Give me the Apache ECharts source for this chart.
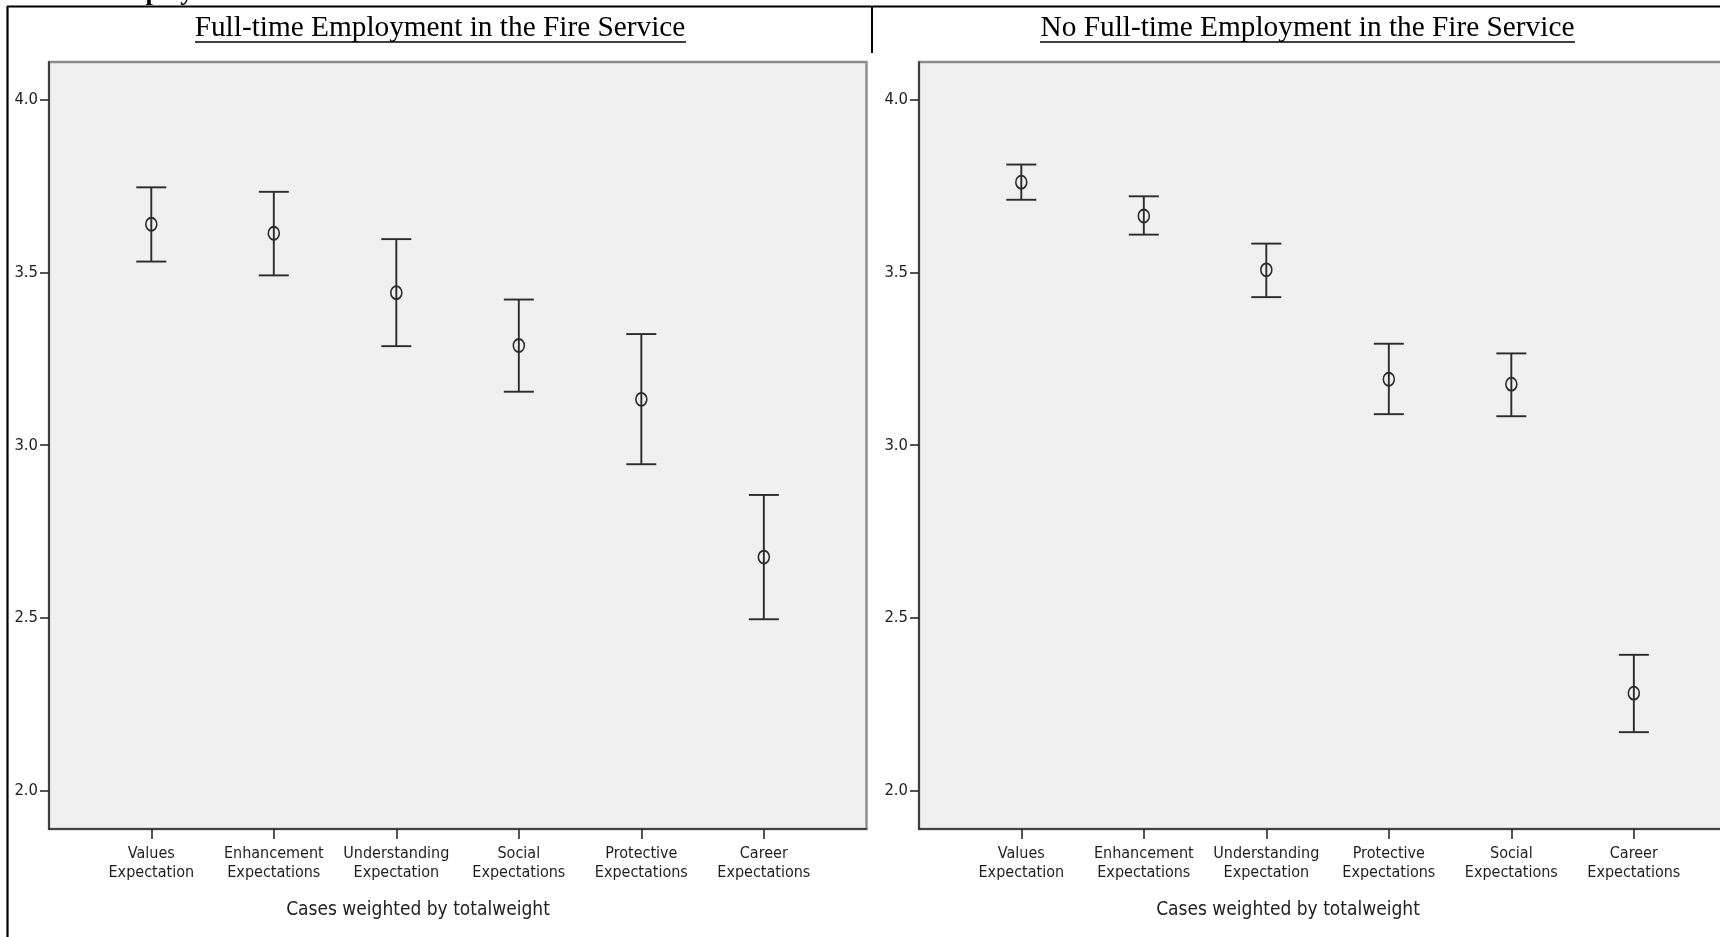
<!DOCTYPE html>
<html>
<head>
<meta charset="utf-8">
<script src="https://cdn.jsdelivr.net/npm/echarts@6/dist/echarts.min.js"></script>
<style>
html,body{margin:0;padding:0;background:#fff;overflow:hidden;width:1720px;height:937px;}
#chart{width:1740px;height:937px;}
</style>
</head>
<body>
<div id="chart"></div>
<script>
// ---- Data ----
const titleLeft = 'Full-time Employment in the Fire Service';
const titleRight = 'No Full-time Employment in the Fire Service';
const axisNote = 'Cases weighted by totalweight';

const categoriesFT = ['Values\nExpectation', 'Enhancement\nExpectations', 'Understanding\nExpectation', 'Social\nExpectations', 'Protective\nExpectations', 'Career\nExpectations'];
const meanFT  = [3.640, 3.614, 3.442, 3.289, 3.133, 2.676];
const upperFT = [3.747, 3.734, 3.597, 3.422, 3.322, 2.856];
const lowerFT = [3.532, 3.492, 3.287, 3.155, 2.945, 2.496];

const categoriesNFT = ['Values\nExpectation', 'Enhancement\nExpectations', 'Understanding\nExpectation', 'Protective\nExpectations', 'Social\nExpectations', 'Career\nExpectations'];
const meanNFT  = [3.762, 3.664, 3.508, 3.191, 3.177, 2.282];
const upperNFT = [3.813, 3.721, 3.584, 3.294, 3.266, 2.393];
const lowerNFT = [3.711, 3.610, 3.429, 3.090, 3.084, 2.169];

const yTicks = [2.0, 2.5, 3.0, 3.5, 4.0];

// ---- Styles ----
const cond = "'DejaVu Sans Condensed', 'Liberation Sans Narrow', sans-serif";
const serif = "'Liberation Serif', 'Times New Roman', serif";
const ink = '#2b2b2b';

const chart = echarts.init(document.getElementById('chart'), null, {renderer: 'canvas'});

function xAxisFor(cats, gridIndex) {
  const idx = cats.map((c, i) => i);
  return {
    type: 'value', gridIndex: gridIndex,
    min: -0.835, max: 5.838,
    axisLine: {show: true, onZero: false, lineStyle: {color: ink, width: 1.6}},
    axisTick: {show: true, customValues: idx, length: 10, lineStyle: {color: ink, width: 1.6}},
    axisLabel: {
      customValues: idx, margin: 15,
      formatter: v => cats[Math.round(v)] || '',
      fontFamily: cond, fontSize: 16, lineHeight: 19, color: '#1e1e1e'
    },
    splitLine: {show: false}
  };
}
function yAxisFor(gridIndex) {
  return {
    type: 'value', gridIndex: gridIndex,
    min: 1.8885, max: 4.110,
    axisLine: {show: true, onZero: false, lineStyle: {color: ink, width: 1.6}},
    axisTick: {show: true, customValues: yTicks, length: 9, lineStyle: {color: ink, width: 1.6}},
    axisLabel: {
      customValues: yTicks, margin: 11,
      formatter: v => v.toFixed(1),
      fontFamily: cond, fontSize: 16.5, color: '#1e1e1e'
    },
    splitLine: {show: false}
  };
}
function errSeries(lo, hi, axisIndex) {
  return {
    type: 'custom', xAxisIndex: axisIndex, yAxisIndex: axisIndex, z: 3,
    data: lo.map((v, i) => [i, v, hi[i]]),
    renderItem: function (params, api) {
      const x = api.value(0);
      const pLo = api.coord([x, api.value(1)]);
      const pHi = api.coord([x, api.value(2)]);
      const hw = 15;
      const st = {stroke: ink, lineWidth: 1.9};
      return {type: 'group', children: [
        {type: 'line', shape: {x1: pLo[0], y1: pLo[1], x2: pHi[0], y2: pHi[1]}, style: st},
        {type: 'line', shape: {x1: pHi[0] - hw, y1: pHi[1], x2: pHi[0] + hw, y2: pHi[1]}, style: st},
        {type: 'line', shape: {x1: pLo[0] - hw, y1: pLo[1], x2: pLo[0] + hw, y2: pLo[1]}, style: st}
      ]};
    }
  };
}
function meanSeries(m, axisIndex) {
  return {
    type: 'scatter', xAxisIndex: axisIndex, yAxisIndex: axisIndex, z: 4,
    data: m.map((v, i) => [i, v]),
    symbol: 'circle', symbolSize: [11, 13],
    itemStyle: {color: 'rgba(0,0,0,0)', borderColor: ink, borderWidth: 1.7, opacity: 1},
    emphasis: {disabled: true}
  };
}

const gridStyle = {show: true, backgroundColor: '#f0f0f0', borderColor: '#8c8c8c', borderWidth: 2.4};

const option = {
  backgroundColor: '#ffffff',
  animation: false,
  grid: [
    Object.assign({left: 49, width: 817.5, top: 62, height: 767}, gridStyle),
    Object.assign({left: 919, width: 817.5, top: 62, height: 767}, gridStyle)
  ],
  xAxis: [xAxisFor(categoriesFT, 0), xAxisFor(categoriesNFT, 1)],
  yAxis: [yAxisFor(0), yAxisFor(1)],
  series: [
    errSeries(lowerFT, upperFT, 0), meanSeries(meanFT, 0),
    errSeries(lowerNFT, upperNFT, 1), meanSeries(meanNFT, 1)
  ],
  graphic: [
    // document frame
    {type: 'line', shape: {x1: 7, y1: 6.5, x2: 1740, y2: 6.5}, style: {stroke: '#000', lineWidth: 2.2}, z: 10},
    {type: 'line', shape: {x1: 7.5, y1: 6, x2: 7.5, y2: 937}, style: {stroke: '#000', lineWidth: 2.2}, z: 10},
    {type: 'line', shape: {x1: 872, y1: 6, x2: 872, y2: 53}, style: {stroke: '#000', lineWidth: 2}, z: 10},
    // cut-off heading above the frame
    {type: 'text', x: 178, y: 6, style: {text: 'Employment', font: "bold 26px " + serif, fill: '#000', align: 'center', verticalAlign: 'bottom'}, z: 9},
    // panel titles
    {type: 'text', x: 440, y: 28.5, style: {text: titleLeft, font: "29.3px " + serif, fill: '#000', align: 'center', verticalAlign: 'middle'}},
    {type: 'line', shape: {x1: 195, y1: 42, x2: 686, y2: 42}, style: {stroke: '#000', lineWidth: 1.3}},
    {type: 'text', x: 1307.5, y: 28.5, style: {text: titleRight, font: "29.3px " + serif, fill: '#000', align: 'center', verticalAlign: 'middle'}},
    {type: 'line', shape: {x1: 1040, y1: 42, x2: 1575, y2: 42}, style: {stroke: '#000', lineWidth: 1.3}},
    // weighting notes
    {type: 'text', x: 418, y: 910, style: {text: axisNote, font: "19px " + cond, fill: '#222', align: 'center', verticalAlign: 'middle'}},
    {type: 'text', x: 1288, y: 910, style: {text: axisNote, font: "19px " + cond, fill: '#222', align: 'center', verticalAlign: 'middle'}}
  ]
};
chart.setOption(option);
</script>
</body>
</html>
